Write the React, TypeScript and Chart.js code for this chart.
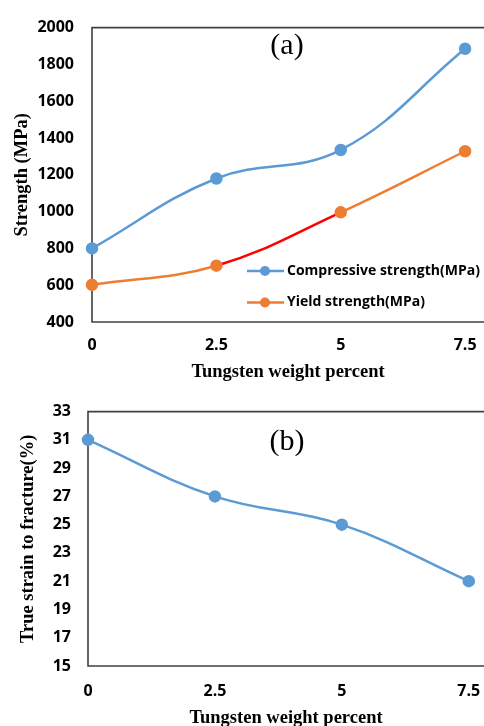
import React, { useEffect, useRef } from "react";
import { Chart, registerables } from "chart.js";
Chart.register(...registerables);

const tungstenPercent = [0, 2.5, 5, 7.5];
const xTickValues = [0, 2.5, 5, 7.5];
const compressiveStrength = [800, 1180, 1335, 1885];
const yieldStrength = [602, 706, 996, 1328];
const trueStrain = [31, 27, 25, 21];

const labelCompressive = "Compressive strength(MPa)";
const labelYield = "Yield strength(MPa)";
const labelStrain = "True strain to fracture(%)";
const xTitle = "Tungsten weight percent";
const yTitleA = "Strength (MPa)";
const yTitleB = "True strain to fracture(%)";
const panelA = "(a)";
const panelB = "(b)";

const BLUE = "#5B9BD5";
const ORANGE = "#ED7D31";
const RED = "#FF0000";
const AXIS = "#404040";
const TICK_FONT = { family: "'Open Sans'", weight: "bold" as const, size: 16 };
const TITLE_FONT = { family: "'Liberation Serif'", weight: "bold" as const, size: 18.5 };

function framePlugin(panel: string, px: number, py: number, legend: boolean) {
  return {
    id: "frame",
    beforeDatasetsDraw(chart: any) {
      const { ctx, chartArea } = chart;
      ctx.save();
      ctx.strokeStyle = AXIS;
      ctx.lineWidth = 1.6;
      ctx.beginPath();
      ctx.moveTo(chartArea.right, chartArea.top);
      ctx.lineTo(chartArea.left, chartArea.top);
      ctx.lineTo(chartArea.left, chartArea.bottom);
      ctx.lineTo(chartArea.right, chartArea.bottom);
      ctx.stroke();
      ctx.fillStyle = "#000";
      ctx.font = "30px 'Liberation Serif'";
      ctx.textAlign = "center";
      ctx.textBaseline = "middle";
      ctx.fillText(panel, px, py);
      ctx.restore();
    },
    afterDatasetsDraw(chart: any) {
      if (!legend) return;
      const { ctx } = chart;
      ctx.save();
      const rows = [271, 302.5];
      chart.data.datasets.forEach((ds: any, i: number) => {
        const y = rows[i];
        ctx.strokeStyle = ds.legendColor;
        ctx.lineWidth = 2.5;
        ctx.beginPath();
        ctx.moveTo(247, y);
        ctx.lineTo(284, y);
        ctx.stroke();
        ctx.fillStyle = ds.legendColor;
        ctx.beginPath();
        ctx.arc(265, y, 5, 0, Math.PI * 2);
        ctx.fill();
        ctx.fillStyle = "#000";
        ctx.font = "bold 14px 'Open Sans'";
        ctx.textAlign = "left";
        ctx.textBaseline = "middle";
        ctx.fillText(ds.label, 287, y);
      });
      ctx.restore();
    },
  };
}

function makeOptions(opts: {
  xMax: number; yMin: number; yMax: number; yStep: number;
  yWidth: number; xHeight: number; yTitle: string; yTitlePad: number;
  xTitlePad: number; top: number; yTickPad: number; xTickPad: number;
}) {
  return {
    responsive: false,
    animation: false as const,
    layout: { autoPadding: false, padding: { top: opts.top, left: 0, right: 0, bottom: 0 } },
    plugins: { legend: { display: false }, tooltip: { enabled: false }, title: { display: false } },
    scales: {
      x: {
        type: "linear" as const,
        min: 0,
        max: opts.xMax,
        grid: { display: false, drawTicks: false },
        border: { display: false },
        afterBuildTicks: (s: any) => { s.ticks = xTickValues.map((v) => ({ value: v })); },
        afterFit: (s: any) => { s.height = opts.xHeight; s.paddingRight = 0; s.paddingLeft = 0; },
        ticks: { font: TICK_FONT, color: "#000", padding: opts.xTickPad, maxRotation: 0, autoSkip: false,
          callback: (v: any) => String(v) },
        title: { display: true, text: xTitle, font: TITLE_FONT, color: "#000", padding: { top: 0, bottom: opts.xTitlePad } },
      },
      y: {
        min: opts.yMin,
        max: opts.yMax,
        grid: { display: false, drawTicks: false },
        border: { display: false },
        afterFit: (s: any) => { s.width = opts.yWidth; },
        ticks: { stepSize: opts.yStep, font: TICK_FONT, color: "#000", padding: opts.yTickPad,
          callback: (v: any) => String(v) },
        title: { display: true, text: opts.yTitle, font: TITLE_FONT, color: "#000", padding: { top: opts.yTitlePad, bottom: 0 } },
      },
    },
  };
}

function ChartA() {
  const ref = useRef<HTMLCanvasElement>(null);
  useEffect(() => {
    const chart = new Chart(ref.current!, {
      type: "line",
      data: {
        datasets: [
          {
            label: labelCompressive,
            data: tungstenPercent.map((x, i) => ({ x, y: compressiveStrength[i] })),
            borderColor: BLUE, backgroundColor: BLUE, pointBackgroundColor: BLUE, pointBorderColor: BLUE,
            borderWidth: 2.5, pointRadius: 5, tension: 0.4, clip: false,
            legendColor: BLUE,
          } as any,
          {
            label: labelYield,
            data: tungstenPercent.map((x, i) => ({ x, y: yieldStrength[i] })),
            borderColor: ORANGE, backgroundColor: ORANGE, pointBackgroundColor: ORANGE, pointBorderColor: ORANGE,
            borderWidth: 2.5, pointRadius: 5, tension: 0.4, clip: false,
            segment: { borderColor: (c: any) => (c.p0DataIndex === 1 ? RED : undefined) },
            legendColor: ORANGE,
          } as any,
        ],
      },
      options: makeOptions({ xMax: 7.88, yMin: 400, yMax: 2000, yStep: 200, yWidth: 92, xHeight: 63,
        yTitle: yTitleA, yTitlePad: 11, xTitlePad: 2, top: 15, yTickPad: 18, xTickPad: 14 }) as any,
      plugins: [framePlugin(panelA, 287, 46, true)],
    });
    return () => chart.destroy();
  }, []);
  return <canvas ref={ref} width={484} height={385} style={{ position: "absolute", left: 0, top: 0, display: "block" }} />;
}

function ChartB() {
  const ref = useRef<HTMLCanvasElement>(null);
  useEffect(() => {
    const chart = new Chart(ref.current!, {
      type: "line",
      data: {
        datasets: [
          {
            label: labelStrain,
            data: tungstenPercent.map((x, i) => ({ x, y: trueStrain[i] })),
            borderColor: BLUE, backgroundColor: BLUE, pointBackgroundColor: BLUE, pointBorderColor: BLUE,
            borderWidth: 2.5, pointRadius: 5, tension: 0.4, clip: false,
            legendColor: BLUE,
          } as any,
        ],
      },
      options: makeOptions({ xMax: 7.8, yMin: 15, yMax: 33, yStep: 2, yWidth: 88, xHeight: 69,
        yTitle: yTitleB, yTitlePad: 17, xTitlePad: 6, top: 21, yTickPad: 17, xTickPad: 16 }) as any,
      plugins: [framePlugin(panelB, 287, 57, false)],
    });
    return () => chart.destroy();
  }, []);
  return <canvas ref={ref} width={484} height={350} style={{ position: "absolute", left: 0, top: 385, display: "block" }} />;
}

export default function App() {
  return (
    <div style={{ position: "absolute", left: 0, top: 0, width: 484, height: 726, overflow: "hidden", background: "#fff" }}>
      <ChartA />
      <ChartB />
    </div>
  );
}
